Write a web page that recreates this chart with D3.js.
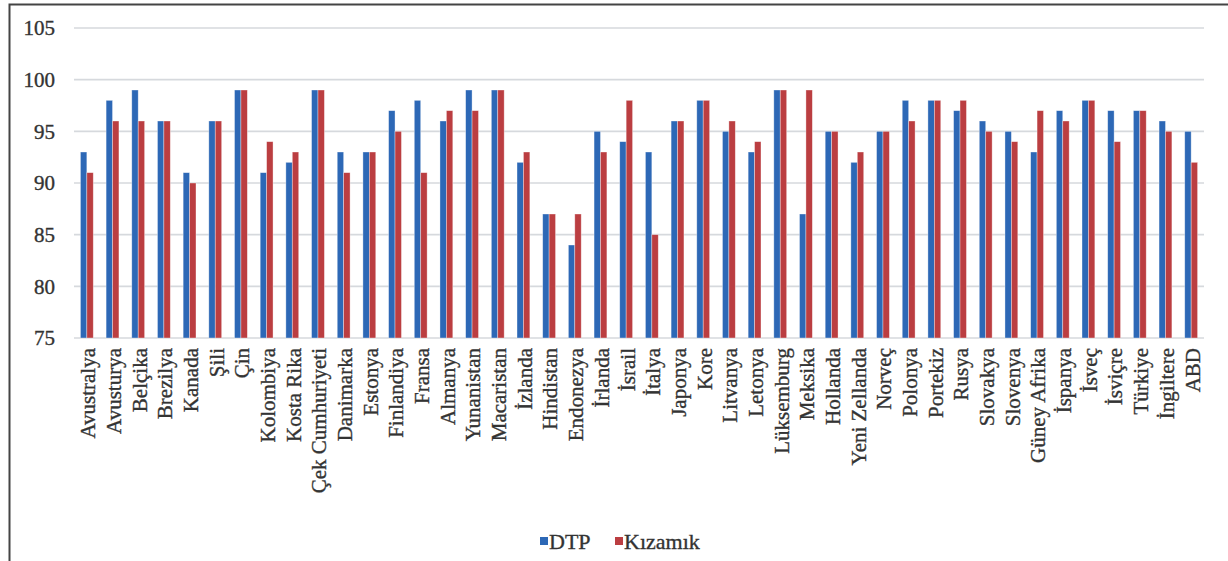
<!DOCTYPE html>
<html>
<head>
<meta charset="utf-8">
<script src="https://cdn.jsdelivr.net/npm/d3@7"></script>
<style>
  html, body { margin: 0; padding: 0; background: #fff; }
  svg { display: block; }
  text { font-family: "Liberation Serif", "Times New Roman", serif; fill: #333; }
</style>
</head>
<body>
<svg id="chart" width="1228" height="561"></svg>
<script>
// Aşılama oranları (%) — ülkeler, DTP ve Kızamık
const countries = [
  "Avustralya", "Avusturya", "Belçika", "Brezilya", "Kanada", "Şili", "Çin",
  "Kolombiya", "Kosta Rika", "Çek Cumhuriyeti", "Danimarka", "Estonya",
  "Finlandiya", "Fransa", "Almanya", "Yunanistan", "Macaristan", "İzlanda",
  "Hindistan", "Endonezya", "İrlanda", "İsrail", "İtalya", "Japonya", "Kore",
  "Litvanya", "Letonya", "Lüksemburg", "Meksika", "Hollanda", "Yeni Zellanda",
  "Norveç", "Polonya", "Portekiz", "Rusya", "Slovakya", "Slovenya",
  "Güney Afrika", "İspanya", "İsveç", "İsviçre", "Türkiye", "İngiltere", "ABD"
];
const dtp = [
  93, 98, 99, 96, 91, 96, 99, 91, 92, 99, 93, 93, 97, 98, 96, 99, 99, 92,
  87, 84, 95, 94, 93, 96, 98, 95, 93, 99, 87, 95, 92, 95, 98, 98, 97, 96, 95,
  93, 97, 98, 97, 97, 96, 95
];
const kizamik = [
  91, 96, 96, 96, 90, 96, 99, 94, 93, 99, 91, 93, 95, 91, 97, 97, 99, 93,
  87, 87, 93, 98, 85, 96, 98, 96, 94, 99, 99, 95, 93, 95, 96, 98, 98, 95, 94,
  97, 96, 98, 94, 97, 95, 92
];
const seriesNames = ["DTP", "Kızamık"];
const seriesColors = ["#2d68b6", "#bb3e41"];
const yTicks = [75, 80, 85, 90, 95, 100, 105];

const rows = countries.map((c, i) => ({ country: c, values: [dtp[i], kizamik[i]] }));

const svg = d3.select("#chart");
const serif = '"Liberation Serif", "Times New Roman", serif';
const ink = "#333";

// outer frame (left and top edges)
svg.append("path")
  .attr("d", "M9.5,561 L9.5,4.5 L1228,4.5")
  .attr("fill", "none")
  .attr("stroke", "#444")
  .attr("stroke-width", 2);

const plot = { left: 74, right: 1204, top: 28, bottom: 338 };

const x0 = d3.scaleBand()
  .domain(countries)
  .range([plot.left, plot.right])
  .paddingInner(0.5)
  .paddingOuter(0.25);

const x1 = d3.scaleBand()
  .domain(seriesNames)
  .range([0, x0.bandwidth()]);

const y = d3.scaleLinear()
  .domain([75, 105])
  .range([plot.bottom, plot.top]);

// horizontal gridlines
svg.append("g")
  .selectAll("line")
  .data(yTicks)
  .join("line")
  .attr("x1", plot.left)
  .attr("x2", plot.right)
  .attr("y1", d => y(d))
  .attr("y2", d => y(d))
  .attr("stroke", "#d6d9dd")
  .attr("stroke-width", 1.7);

// y axis labels
const yAxis = d3.axisLeft(y).tickValues(yTicks).tickSize(0).tickPadding(0);
svg.append("g")
  .attr("transform", `translate(55,0)`)
  .call(yAxis)
  .attr("font-family", serif)
  .attr("font-size", 21)
  .call(g => g.select(".domain").remove())
  .call(g => g.selectAll("text")
    .attr("fill", ink)
    .attr("stroke", ink)
    .attr("stroke-width", 0.35));

// bars
const groups = svg.append("g")
  .selectAll("g")
  .data(rows)
  .join("g")
  .attr("transform", d => `translate(${x0(d.country)},0)`);

groups.selectAll("rect")
  .data(d => d.values.map((v, i) => ({ key: seriesNames[i], value: v, i })))
  .join("rect")
  .attr("x", d => x1(d.key))
  .attr("width", x1.bandwidth())
  .attr("y", d => y(d.value))
  .attr("height", d => y(75) - y(d.value))
  .attr("fill", d => seriesColors[d.i])
  .attr("stroke", "#ffffff")
  .attr("stroke-opacity", 0.5)
  .attr("stroke-width", 0.7);

// x axis category labels (rotated)
const xAxis = d3.axisBottom(x0).tickSize(0).tickPadding(0);
svg.append("g")
  .attr("transform", `translate(0,${plot.bottom})`)
  .call(xAxis)
  .attr("font-family", serif)
  .attr("font-size", 21)
  .call(g => g.select(".domain").remove())
  .call(g => g.selectAll("text")
    .attr("fill", ink)
    .attr("stroke", ink)
    .attr("stroke-width", 0.35)
    .attr("text-anchor", "end")
    .attr("transform", "rotate(-90)")
    .attr("x", -10)
    .attr("y", 1)
    .attr("dy", "0.35em"));

// legend
const legend = svg.append("g").attr("transform", "translate(540,541)");
const legendX = [0, 75];
seriesNames.forEach((name, i) => {
  const g = legend.append("g").attr("transform", `translate(${legendX[i]},0)`);
  g.append("rect")
    .attr("x", 0).attr("y", -4)
    .attr("width", 8).attr("height", 8)
    .attr("fill", seriesColors[i]);
  g.append("text")
    .attr("x", 9).attr("y", 0).attr("dy", "0.35em")
    .attr("font-family", serif)
    .attr("font-size", 22)
    .attr("fill", ink)
    .attr("stroke", ink)
    .attr("stroke-width", 0.35)
    .text(name);
});
</script>
</body>
</html>
